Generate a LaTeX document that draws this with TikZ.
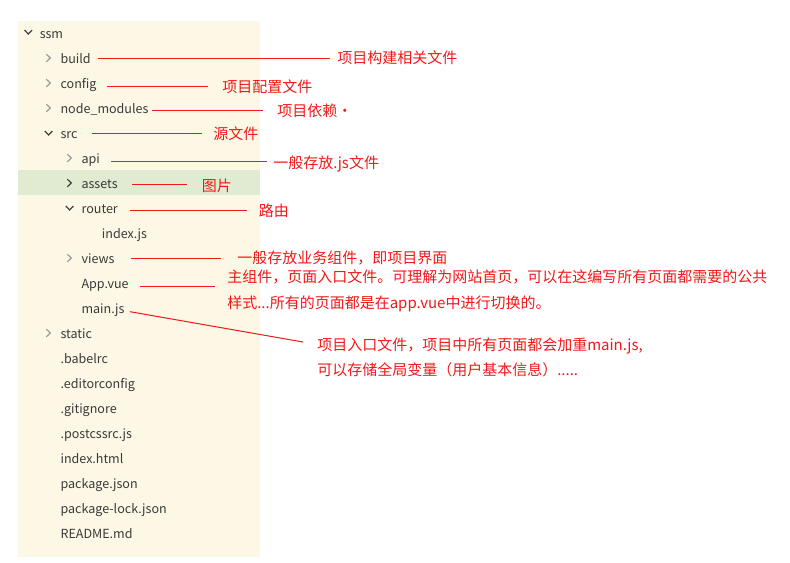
\documentclass[tikz,border=0pt]{standalone}
\usepackage{fontspec}
\setmainfont{Noto Sans CJK SC}
\definecolor{panel}{HTML}{FDF8E5}
\definecolor{hl}{HTML}{E0EBD1}
\definecolor{treetext}{HTML}{3A3A3A}
\definecolor{chevgray}{HTML}{9A9A9A}
\definecolor{chevdark}{HTML}{404040}
\definecolor{notered}{RGB}{242,24,24}
\begin{document}
\begin{tikzpicture}[x=0.75pt,y=-0.75pt,
  tree/.style={anchor=base west,inner sep=0pt,font=\fontsize{9.4pt}{11pt}\selectfont,text=treetext},
  note/.style={anchor=base west,inner sep=0pt,font=\fontsize{11.25pt}{13pt}\selectfont,text=notered},
  redline/.style={draw=notered,line width=0.75pt},
  chevc/.style={draw=chevgray,line width=0.9pt},
  chevo/.style={draw=chevdark,line width=0.9pt},
  chevsel/.style={draw=chevdark,line width=0.9pt}]
\useasboundingbox (0,0) rectangle (790,562);
% panel
\fill[panel] (18,21) rectangle (260,557);
\fill[hl] (18,170) rectangle (260,195);
% chevrons
\draw[chevo] (24.5,30) -- (28.3,34) -- (32.1,30);        % ssm
\draw[chevc] (46.3,54.2) -- (50.3,58) -- (46.3,61.8);    % build
\draw[chevc] (46.3,79.2) -- (50.3,83) -- (46.3,86.8);    % config
\draw[chevc] (46.3,104.2) -- (50.3,108) -- (46.3,111.8); % node_modules
\draw[chevo] (44.8,131) -- (48.6,135) -- (52.4,131);     % src
\draw[chevc] (67.3,154.2) -- (71.3,158) -- (67.3,161.8); % api
\draw[chevsel] (67.3,179.2) -- (71.3,183) -- (67.3,186.8); % assets
\draw[chevo] (65.8,206) -- (69.6,210) -- (73.4,206);     % router
\draw[chevc] (67.3,254.2) -- (71.3,258) -- (67.3,261.8); % views
\draw[chevc] (46.3,329.2) -- (50.3,333) -- (46.3,336.8); % static
% tree items
\node[tree] (ssm)   at (39.5,38)  {ssm};
\node[tree] (build) at (60.3,63)  {build};
\node[tree] (config) at (60.3,88) {config};
\node[tree] (nodem) at (60.3,113) {node\_modules};
\node[tree] (src)   at (60.3,138) {src};
\node[tree] (api)   at (81.3,163) {api};
\node[tree] (assets) at (81.3,188) {assets};
\node[tree] (router) at (81.3,213) {router};
\node[tree] (indexjs) at (101.7,238) {index.js};
\node[tree] (views) at (81.3,263) {views};
\node[tree] (appvue) at (81.3,288) {App.vue};
\node[tree] (mainjs) at (81.3,313) {main.js};
\node[tree] (static) at (60.3,338) {static};
\node[tree] (babelrc) at (60.3,363) {.babelrc};
\node[tree] (editorconfig) at (60.3,388) {.editorconfig};
\node[tree] (gitignore) at (60.3,413) {.gitignore};
\node[tree] (postcss) at (60.3,438) {.postcssrc.js};
\node[tree] (indexhtml) at (60.3,463) {index.html};
\node[tree] (pkg) at (60.3,488) {package.json};
\node[tree] (pkglock) at (60.3,513) {package-lock.json};
\node[tree] (readme) at (60.3,538) {README.md};
% annotations
\node[note] (nbuild) at (337,63.3) {项目构建相关文件};
\node[note] (nconfig) at (222,92.7) {项目配置文件};
\node[note] (nnodem) at (277,116.3) {项目依赖·};
\node[note] (nsrc) at (213,139.3) {源文件};
\node[note] (napi) at (273,168.3) {一般存放.js文件};
\node[note] (nassets) at (201.5,191) {图片};
\node[note] (nrouter) at (258.5,216.5) {路由};
\node[note] (nviews) at (237,263.7) {一般存放业务组件，即项目界面};
\node[note] (napp1) at (227,282.7) {主组件，页面入口文件。可理解为网站首页，可以在这编写所有页面都需要的公共};
\node[note] (napp2) at (227,308.7) {样式...所有的页面都是在app.vue中进行切换的。};
\node[note] (nmain1) at (317,350.7) {项目入口文件，项目中所有页面都会加重main.js,};
\node[note] (nmain2) at (317,375.7) {可以存储全局变量（用户基本信息）.....};
% connector end points
\coordinate (b1) at (98,58.3);   \coordinate (b2) at (330,58.3);
\coordinate (c1) at (107,86.7);  \coordinate (c2) at (208,86.7);
\coordinate (m1) at (152,110);   \coordinate (m2) at (263,110);
\coordinate (s1) at (92,133);    \coordinate (s2) at (202,133);
\coordinate (a1) at (111,161);   \coordinate (a2) at (267,161);
\coordinate (as1) at (132,184);  \coordinate (as2) at (187,184);
\coordinate (r1) at (130,210);   \coordinate (r2) at (247,210);
\coordinate (v1) at (131,258.3); \coordinate (v2) at (221,258.3);
\coordinate (ap1) at (140,286);  \coordinate (ap2) at (215,286);
\coordinate (mj1) at (130,311.7); \coordinate (mj2) at (303,342);
\draw[redline] (b1) -- (b2);
\draw[redline] (c1) -- (c2);
\draw[redline] (m1) -- (m2);
\draw[redline] (s1) -- (s2);
\draw[redline] (a1) -- (a2);
\draw[redline] (as1) -- (as2);
\draw[redline] (r1) -- (r2);
\draw[redline] (v1) -- (v2);
\draw[redline] (ap1) -- (ap2);
\draw[redline] (mj1) -- (mj2);
\end{tikzpicture}
\end{document}
